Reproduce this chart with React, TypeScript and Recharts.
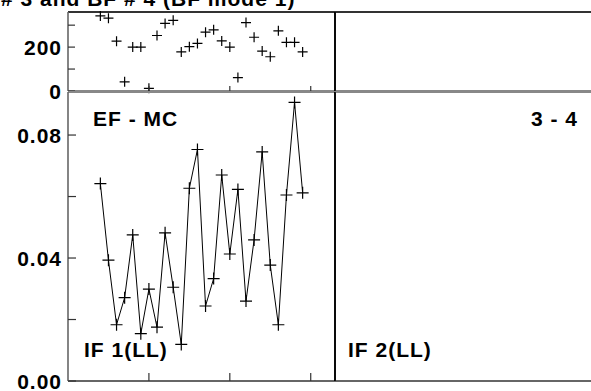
import React from 'react';
import { ComposedChart, Scatter, Line, XAxis, YAxis } from 'recharts';

// run numbers along the x axis
const runs = [4, 5, 6, 7, 8, 9, 10, 11, 12, 13, 14, 15, 16, 17, 18, 19, 20, 21, 22, 23, 24, 25, 26, 27, 28, 29];

// upper strip (counts)
const countValues = [342, 332, 227, 42, 200, 200, 12, 253, 308, 322, 178, 202, 217, 268, 279, 228, 200, 61, 312, 245, 182, 156, 274, 222, 222, 178];

// EF - MC, IF 1(LL)
const efValues = [
    0.0642, 0.0393, 0.0183, 0.0271, 0.0475, 0.0154, 0.0299, 0.0175, 0.0482, 0.0305, 0.0119, 0.0627, 0.0753,
    0.0244, 0.0333, 0.067, 0.0413, 0.0623, 0.026, 0.0459, 0.0745, 0.0377, 0.0183, 0.0605, 0.0906, 0.0612,
];

const xTicks = [10, 20, 30];
const countTicks = [0, 100, 200, 300];
const countLabels = [0, 200];
const efTicks = [0, 0.02, 0.04, 0.06, 0.08];
const efLabels = [0, 0.04, 0.08];

const countData = runs.map((run, i) => ({ run, count: countValues[i] }));
const efData = runs.map((run, i) => ({ run, ef: efValues[i] }));

const FONT = '"Liberation Sans", Arial, Helvetica, sans-serif';
const TICK = '#333';

const Cross = ({ cx, cy, r }: { cx: number; cy: number; r: number }) => (
    <path d={`M${cx - r},${cy}H${cx + r}M${cx},${cy - r}V${cy + r}`} stroke="#000" strokeWidth={1.2} fill="none" />
);

const vTick = (len: number) => (p: any) => (
    <line x1={p.x} y1={p.y} x2={p.x} y2={p.y + len} stroke={TICK} strokeWidth={1.2} />
);

const hTick = (len: number, labels?: number[], digits = 0) => (p: any) => {
    const v = p.payload.value;
    const show = labels && labels.some((l) => Math.abs(l - v) < 1e-9);
    return (
        <g>
            <line x1={p.x} y1={p.y} x2={p.x + len} y2={p.y} stroke={TICK} strokeWidth={1.2} />
            {show && (
                <text
                    x={p.x - 6}
                    y={p.y}
                    textAnchor="end"
                    dominantBaseline="central"
                    fontFamily={FONT}
                    fontWeight="bold"
                    fontSize={21}
                    letterSpacing={1}
                    fill="#000"
                >
                    {v.toFixed(digits)}
                </text>
            )}
        </g>
    );
};

type PanelProps = {
    x: number;
    y: number;
    w: number;
    h: number;
    padL: number;
    yDomain: number[];
    yTicks: number[];
    labels?: number[];
    digits?: number;
    hLen: number;
    vLen: number;
    leftColor: string;
    topColor: string;
    bottomColor: string;
    children?: React.ReactNode;
};

// axes take 1px each (a 0px axis is not drawn), so margins are one less
const Panel = ({ x, y, w, h, padL, yDomain, yTicks, labels, digits, hLen, vLen, leftColor, topColor, bottomColor, children }: PanelProps) => {
    const pad = 14;
    return (
        <div style={{ position: 'absolute', left: x - padL, top: y - pad }}>
            <ComposedChart
                width={w + padL + pad}
                height={h + pad * 2}
                margin={{ top: pad - 1, right: pad - 1, bottom: pad - 1, left: padL - 1 }}
            >
                <XAxis
                    xAxisId="b"
                    orientation="bottom"
                    type="number"
                    dataKey="run"
                    domain={[0, 33]}
                    ticks={xTicks}
                    interval={0}
                    height={1}
                    tickSize={0}
                    tickMargin={0}
                    tickLine={false}
                    axisLine={{ stroke: bottomColor, strokeWidth: 2 }}
                    tick={vTick(-vLen)}
                />
                <XAxis
                    xAxisId="t"
                    orientation="top"
                    type="number"
                    dataKey="run"
                    domain={[0, 33]}
                    ticks={xTicks}
                    interval={0}
                    height={1}
                    tickSize={0}
                    tickMargin={0}
                    tickLine={false}
                    axisLine={{ stroke: topColor, strokeWidth: 2 }}
                    tick={vTick(vLen)}
                />
                <YAxis
                    yAxisId="l"
                    orientation="left"
                    type="number"
                    domain={yDomain}
                    ticks={yTicks}
                    interval={0}
                    width={1}
                    tickSize={0}
                    tickMargin={0}
                    tickLine={false}
                    axisLine={{ stroke: leftColor, strokeWidth: 1.6 }}
                    tick={hTick(hLen, labels, digits)}
                />
                <YAxis
                    yAxisId="r"
                    orientation="right"
                    type="number"
                    domain={yDomain}
                    ticks={yTicks}
                    interval={0}
                    width={1}
                    tickSize={0}
                    tickMargin={0}
                    tickLine={false}
                    axisLine={{ stroke: '#000', strokeWidth: 1.6 }}
                    tick={hTick(-hLen)}
                />
                {children}
            </ComposedChart>
        </div>
    );
};

const textStyle = { fontFamily: FONT, fontWeight: 'bold' as const, fontSize: 21, letterSpacing: 1, fill: '#000' };

export default function App() {
    return (
        <div style={{ position: 'absolute', left: 0, top: 0, width: 591, height: 391, overflow: 'hidden', background: '#fff' }}>
            {/* upper strip */}
            <Panel x={68} y={12} w={267} h={79} padL={68} yDomain={[0, 360]} yTicks={countTicks} labels={countLabels} hLen={7} vLen={5} leftColor="#666" topColor="#333" bottomColor="#888">
                <Scatter
                    xAxisId="b"
                    yAxisId="l"
                    data={countData}
                    dataKey="count"
                    isAnimationActive={false}
                    shape={(p: any) => <Cross cx={p.cx} cy={p.cy} r={5} />}
                />
            </Panel>
            <Panel x={335} y={12} w={267} h={79} padL={10} yDomain={[0, 360]} yTicks={countTicks} hLen={7} vLen={5} leftColor="#000" topColor="#333" bottomColor="#888" />

            {/* main panels */}
            <Panel x={68} y={92} w={267} h={289} padL={68} yDomain={[0, 0.094]} yTicks={efTicks} labels={efLabels} digits={2} hLen={8} vLen={8} leftColor="#666" topColor="#888" bottomColor="#666">
                <Line
                    xAxisId="b"
                    yAxisId="l"
                    data={efData}
                    dataKey="ef"
                    type="linear"
                    stroke="#000"
                    strokeWidth={1}
                    isAnimationActive={false}
                    dot={(p: any) => <Cross key={`d${p.index}`} cx={p.cx} cy={p.cy} r={6} />}
                    activeDot={false}
                />
            </Panel>
            <Panel x={335} y={92} w={267} h={289} padL={10} yDomain={[0, 0.094]} yTicks={efTicks} hLen={8} vLen={8} leftColor="#000" topColor="#888" bottomColor="#666" />

            <svg width={591} height={391} style={{ position: 'absolute', left: 0, top: 0, pointerEvents: 'none' }}>
                <text x={1} y={6} style={textStyle}>
                    # 3 and BF # 4 (BF mode 1)
                </text>
                <text x={93} y={126} style={textStyle}>
                    EF - MC
                </text>
                <text x={578} y={126} textAnchor="end" style={textStyle}>
                    3 - 4
                </text>
                <text x={84} y={357} style={textStyle}>
                    IF 1(LL)
                </text>
                <text x={348} y={357} style={textStyle}>
                    IF 2(LL)
                </text>
            </svg>
        </div>
    );
}
